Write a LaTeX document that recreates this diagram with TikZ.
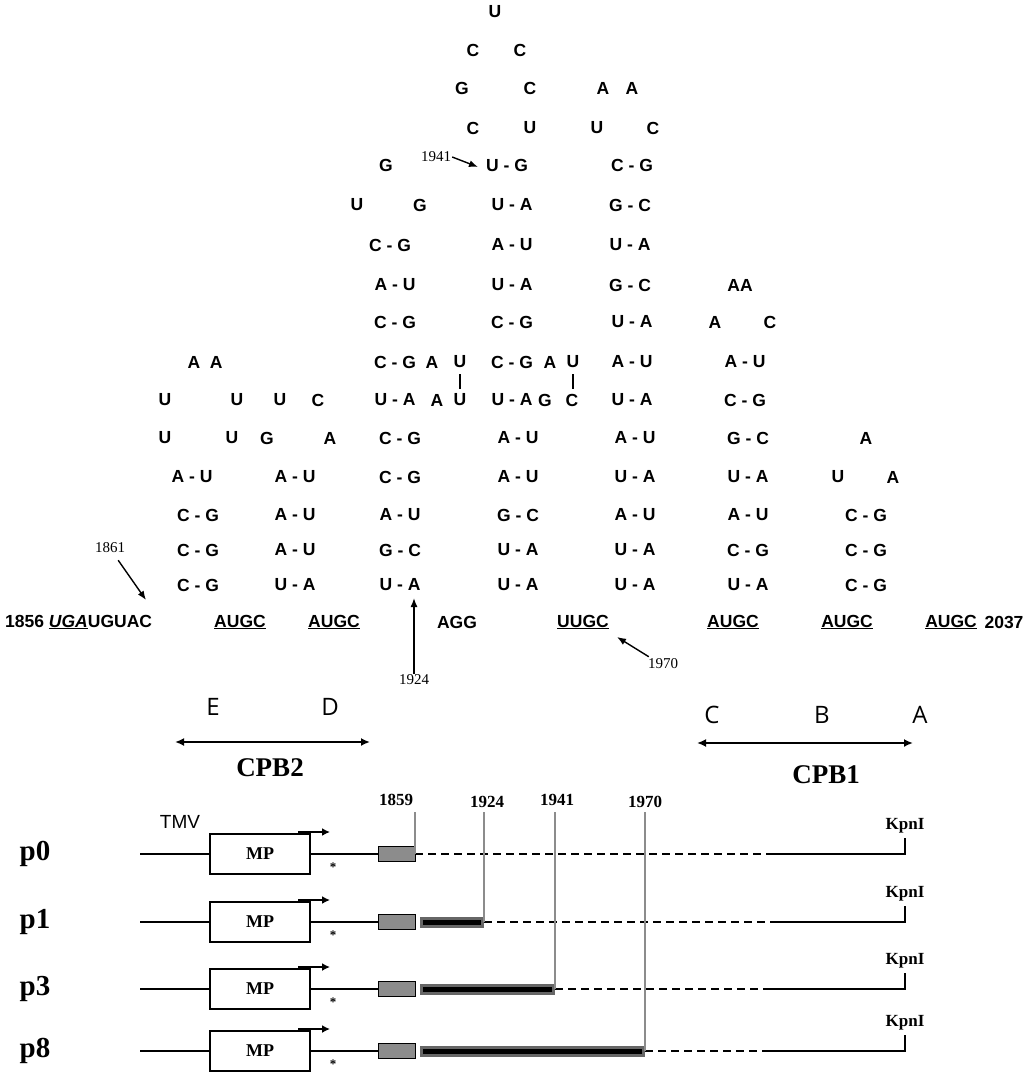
\documentclass[tikz,border=0pt]{standalone}
\usepackage{fontspec}
\setmainfont{Liberation Serif}
\setsansfont{Liberation Sans}
\newfontfamily\osans{Open Sans}
\usetikzlibrary{arrows.meta}
\begin{document}
\begin{tikzpicture}[x=1pt,y=-1pt,
 nt/.style={font=\sffamily\bfseries\fontsize{17.5}{17.5}\selectfont,inner sep=0pt},
 num/.style={font=\fontsize{15}{15}\selectfont,inner sep=1pt},
 bnum/.style={font=\bfseries\fontsize{17}{17}\selectfont,inner sep=1pt},
 big/.style={font=\osans\fontsize{24}{24}\selectfont,inner sep=0pt},
 arr/.style={-{Latex[length=9pt,width=7pt]},line width=1.4pt},
 gl/.style={black!45,line width=2.4pt},
 rowl/.style={line width=1.8pt}]
\useasboundingbox (0,0) rectangle (1024,1075);
\foreach \x/\y/\t [count=\k] in {
495/12/U, 473/50/C, 520/50/C,
462/88/G, 530/88/C, 603/88/A, 632/88/A,
473/128/C, 530/128/U, 597/128/U, 653/128/C,
386/165/G, 507/165/U - G, 632/165/C - G,
357/205/U, 420/205/G, 512/205/U - A, 630/205/G - C,
390/245/C - G, 512/245/A - U, 630/245/U - A,
395/285/A - U, 512/285/U - A, 630/285/G - C, 740/285/AA,
395/322/C - G, 512/322/C - G, 632/322/U - A, 715/322/A, 770/322/C,
205/362/A\ \ A, 395/362/C - G, 432/362/A, 460/362/U, 512/362/C - G, 550/362/A, 573/362/U, 632/362/A - U, 745/362/A - U,
165/400/U, 237/400/U, 280/400/U, 318/400/C, 395/400/U - A, 437/400/A, 460/400/U, 512/400/U - A, 545/400/G, 572/400/C, 632/400/U - A, 745/400/C - G,
165/438/U, 232/438/U, 267/438/G, 330/438/A, 400/438/C - G, 518/438/A - U, 635/438/A - U, 748/438/G - C, 866/438/A,
192/477/A - U, 295/477/A - U, 400/477/C - G, 518/477/A - U, 635/477/U - A, 748/477/U - A, 838/477/U, 893/477/A,
198/515/C - G, 295/515/A - U, 400/515/A - U, 518/515/G - C, 635/515/A - U, 748/515/A - U, 866/515/C - G,
198/550/C - G, 295/550/A - U, 400/550/G - C, 518/550/U - A, 635/550/U - A, 748/550/C - G, 866/550/C - G,
198/585/C - G, 295/585/U - A, 400/585/U - A, 518/585/U - A, 635/585/U - A, 748/585/U - A, 866/585/C - G}
 \node[nt] (s\k) at (\x,\y) {\t};
\draw[line width=1.8pt] (460,374) -- (460,389);
\draw[line width=1.8pt] (573,374) -- (573,389);
% sequence row
\node[nt,anchor=west] (q0) at (5,622) {1856 \underline{\textit{UGA}}UGUAC};
\node[nt] (q1) at (240,622) {\underline{AUGC}};
\node[nt] (q2) at (334,622) {\underline{AUGC}};
\node[nt] (q3) at (457,622) {AGG};
\node[nt] (q4) at (583,622) {\underline{UUGC}};
\node[nt] (q5) at (733,622) {\underline{AUGC}};
\node[nt] (q6) at (847,622) {\underline{AUGC}};
\node[nt] (q7) at (951,622) {\underline{AUGC}};
\node[nt] (q8) at (1004,622) {2037};
% position arrows
\node[num] (n1861) at (110,548) {1861};
\coordinate (t1861) at (146,600);
\draw[arr] (n1861.south east) ++(-8,6) -- (t1861);
\node[num] (n1924) at (414,680) {1924};
\coordinate (t1924) at (414,598);
\draw[arr] (n1924.north) -- (t1924);
\node[num] (n1970) at (663,664) {1970};
\coordinate (t1970) at (617,637);
\draw[arr] (n1970.north west) ++(2,-1) -- (t1970);
\node[num] (n1941) at (436,157) {1941};
\coordinate (t1941) at (478,167);
\draw[arr] (n1941.east) -- (t1941);
% domains
\node[big] (E) at (213,707) {E};
\node[big] (D) at (330,707) {D};
\node[big] (C) at (712,715) {C};
\node[big] (B) at (822,715) {B};
\node[big] (A) at (920,715) {A};
\coordinate (d1) at (175,742); \coordinate (d2) at (370,742);
\coordinate (d3) at (697,743); \coordinate (d4) at (913,743);
\draw[{Latex[length=9pt,width=8pt]}-{Latex[length=9pt,width=8pt]},line width=2pt] (d1) -- (d2);
\draw[{Latex[length=9pt,width=8pt]}-{Latex[length=9pt,width=8pt]},line width=2pt] (d3) -- (d4);
\node[font=\bfseries\fontsize{27}{27}\selectfont] (cpb2) at (270,768) {CPB2};
\node[font=\bfseries\fontsize{27}{27}\selectfont] (cpb1) at (826,775) {CPB1};
% constructs
\node[font=\sffamily\fontsize{19}{19}\selectfont] (tmv) at (180,822) {TMV};
\node[bnum] (l1859) at (396,800) {1859};
\node[bnum] (l1924) at (487,802) {1924};
\node[bnum] (l1941) at (557,800) {1941};
\node[bnum] (l1970) at (645,802) {1970};
\foreach \nm/\yy/\ee/\vv [count=\k] in {p0/854/415/0, p1/922/484/1, p3/989/555/1, p8/1051/645/1} {
  \node[font=\bfseries\fontsize{29}{29}\selectfont] (lab\k) at (35,\yy) {\nm};
  \coordinate (a\k) at (140,\yy);
  \node[draw,line width=1.8pt,minimum width=100pt,minimum height=40pt,inner sep=0pt,font=\bfseries\fontsize{18}{18}\selectfont] (mp\k) at (260,\yy) {MP};
  \node[draw,line width=1.8pt,fill=black!45,minimum width=37pt,minimum height=15pt,inner sep=0pt] (hb\k) at (397,\yy) {};
  \draw[rowl] (a\k) -- (mp\k.west);
  \draw[rowl] (mp\k.east) -- (hb\k.west);
  \coordinate (sa\k) at (298,\yy-22); \coordinate (sb\k) at (330,\yy-22);
  \draw[-{Latex[length=8pt,width=8pt]},line width=2pt] (sa\k) -- (sb\k);
  \node[font=\bfseries\fontsize{13}{13}\selectfont,inner sep=0pt] (ast\k) at (333,\yy+13) {*};
  \coordinate (e\k) at (\ee,\yy);
  \coordinate (f\k) at (770,\yy);
  \coordinate (g\k) at (905,\yy);
  \coordinate (h\k) at (905,\yy-16);
  \ifnum\vv=1
    \draw[black!60,line width=11pt] ([xshift=4pt]hb\k.east) -- (e\k);
    \draw[black,line width=5pt] ([xshift=7pt]hb\k.east) -- ([xshift=-3pt]e\k);
  \fi
  \draw[rowl,dash pattern=on 8pt off 5pt] (e\k) -- (f\k);
  \draw[rowl] (f\k) -- (g\k) -- (h\k);
  \node[font=\bfseries\fontsize{17}{17}\selectfont,anchor=south] (kp\k) at ([yshift=1pt]h\k) {KpnI};
}
\coordinate (v0) at (415,812); \coordinate (v1) at (484,812);
\coordinate (v2) at (555,812); \coordinate (v3) at (645,812);
\draw[gl] (v0) -- (415,854);
\draw[gl] (v1) -- (484,922);
\draw[gl] (v2) -- (555,989);
\draw[gl] (v3) -- (645,1051);
\end{tikzpicture}
\end{document}
